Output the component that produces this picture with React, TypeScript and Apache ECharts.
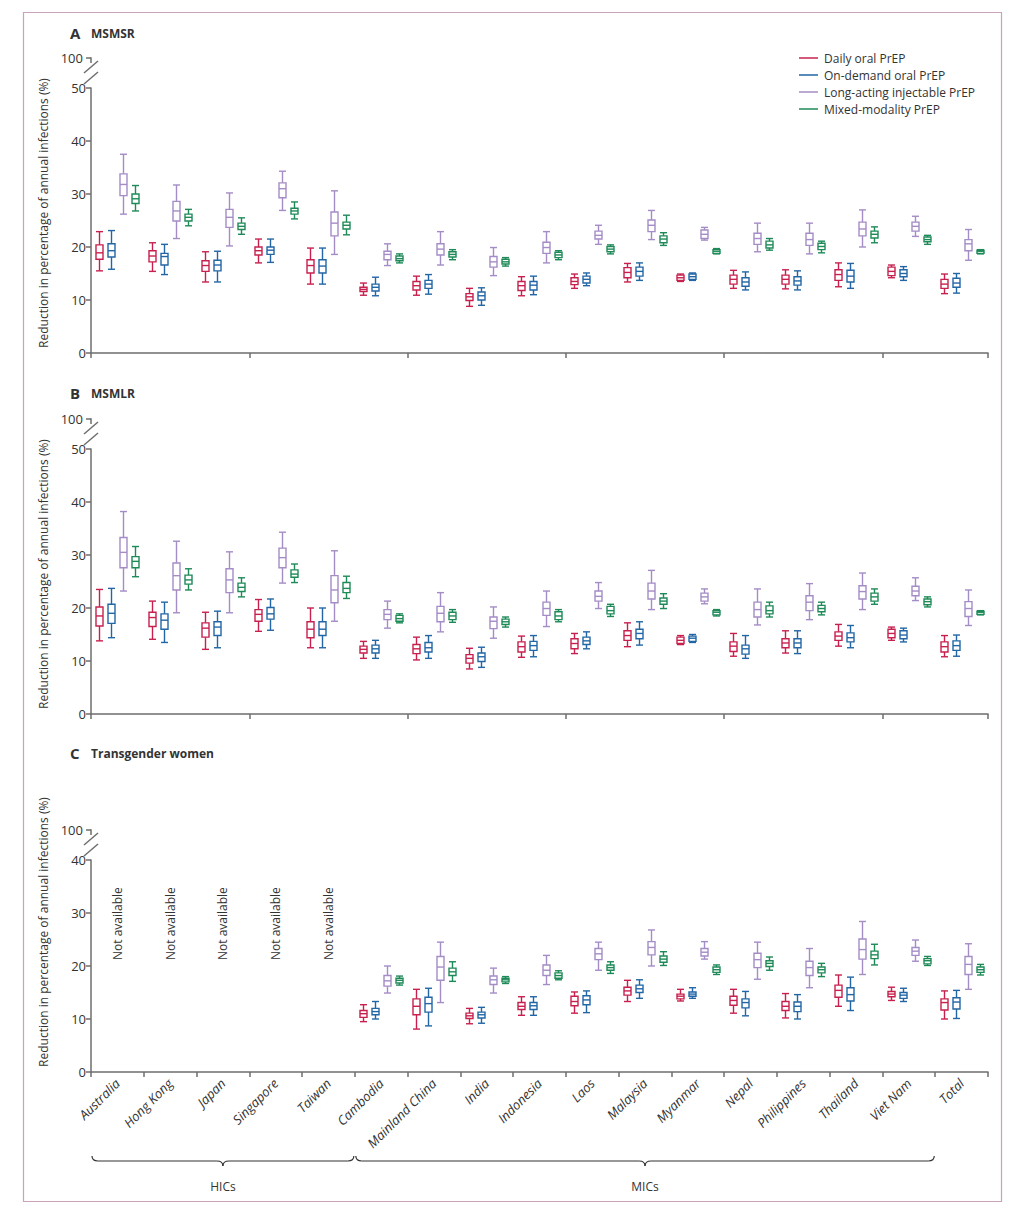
import React, { useEffect, useRef } from "react";
import * as echarts from "echarts";

// Countries on the shared category axis
const countries = [
  "Australia", "Hong Kong", "Japan", "Singapore", "Taiwan", "Cambodia", "Mainland China",
  "India", "Indonesia", "Laos", "Malaysia", "Myanmar", "Nepal", "Philippines", "Thailand",
  "Viet Nam", "Total",
];

const modalities = [
  "Daily oral PrEP",
  "On-demand oral PrEP",
  "Long-acting injectable PrEP",
  "Mixed-modality PrEP",
];

type Box = [number, number, number, number, number] | null; // min, q1, median, q3, max

// A — MSMSR
const msmsrDaily: Box[] = [
  [15.5, 17.7, 18.9, 20.4, 22.9], [15.4, 17.2, 18.3, 19.3, 20.8], [13.4, 15.4, 16.5, 17.4, 19.1],
  [17.0, 18.5, 19.3, 20.0, 21.5], [13.0, 15.1, 16.5, 17.6, 19.8], [10.9, 11.6, 12.0, 12.4, 13.2],
  [10.9, 11.9, 12.7, 13.5, 14.5], [8.8, 9.9, 10.6, 11.2, 12.2], [10.8, 11.8, 12.7, 13.5, 14.4],
  [12.2, 12.9, 13.5, 14.2, 14.9], [13.4, 14.2, 15.2, 16.1, 16.9], [13.5, 13.7, 14.2, 14.7, 14.9],
  [12.2, 13.0, 13.9, 14.7, 15.6], [12.1, 13.0, 13.9, 14.7, 15.7], [12.5, 13.7, 14.8, 15.7, 17.0],
  [14.2, 14.6, 15.4, 16.2, 16.6], [11.2, 12.2, 13.0, 13.9, 14.9],
];
const msmsrOnDemand: Box[] = [
  [15.8, 18.1, 19.3, 20.6, 23.1], [14.8, 16.6, 18.2, 18.8, 20.5], [13.4, 15.5, 16.6, 17.5, 19.2],
  [17.1, 18.6, 19.4, 20.0, 21.5], [13.0, 15.1, 16.4, 17.6, 19.8], [10.8, 11.7, 12.4, 13.0, 14.3],
  [11.1, 12.2, 13.0, 13.7, 14.8], [9.0, 10.0, 10.8, 11.5, 12.3], [11.0, 11.9, 12.8, 13.5, 14.5],
  [12.7, 13.2, 13.9, 14.5, 15.1], [13.7, 14.5, 15.4, 16.2, 17.0], [13.7, 13.9, 14.4, 14.9, 15.1],
  [11.9, 12.6, 13.4, 14.2, 15.3], [11.9, 12.8, 13.6, 14.4, 15.5], [12.2, 13.4, 14.5, 15.6, 16.9],
  [13.7, 14.4, 15.0, 15.7, 16.3], [11.3, 12.4, 13.2, 14.1, 15.0],
];
const msmsrLongActing: Box[] = [
  [26.2, 29.7, 31.8, 33.8, 37.5], [21.6, 24.9, 26.8, 28.6, 31.7], [20.2, 23.7, 25.6, 27.1, 30.2],
  [26.9, 29.3, 31.0, 32.1, 34.3], [18.6, 22.1, 24.5, 26.6, 30.6], [16.5, 17.6, 18.6, 19.2, 20.6],
  [16.6, 18.5, 19.6, 20.6, 22.9], [14.6, 16.2, 17.2, 18.2, 19.9], [17.0, 18.8, 19.9, 20.9, 22.9],
  [20.5, 21.5, 22.2, 23.0, 24.1], [21.4, 22.9, 24.1, 25.1, 26.9], [21.3, 21.6, 22.4, 23.2, 23.7],
  [19.1, 20.5, 21.6, 22.6, 24.5], [18.7, 20.3, 21.4, 22.6, 24.5], [20.0, 22.1, 23.4, 24.7, 27.0],
  [22.0, 23.0, 23.9, 24.7, 25.8], [17.5, 19.3, 20.6, 21.4, 23.3],
];
const msmsrMixed: Box[] = [
  [26.8, 28.2, 29.1, 30.0, 31.6], [24.0, 24.9, 25.6, 26.2, 27.1], [22.4, 23.3, 23.9, 24.5, 25.5],
  [25.3, 26.2, 26.8, 27.3, 28.5], [22.3, 23.4, 24.1, 24.7, 26.0], [17.0, 17.4, 17.8, 18.3, 18.7],
  [17.6, 18.1, 18.6, 19.1, 19.5], [16.4, 16.8, 17.2, 17.7, 18.0], [17.6, 18.0, 18.5, 19.0, 19.3],
  [18.7, 19.1, 19.6, 20.1, 20.4], [20.3, 20.8, 21.5, 22.1, 22.7], [18.7, 18.8, 19.2, 19.5, 19.7],
  [19.4, 19.8, 20.4, 21.1, 21.6], [18.9, 19.5, 20.1, 20.7, 21.1], [20.8, 21.7, 22.4, 23.0, 23.8],
  [20.5, 21.0, 21.4, 21.9, 22.2], [18.7, 18.8, 19.2, 19.4, 19.5],
];

// B — MSMLR
const msmlrDaily: Box[] = [
  [13.8, 16.6, 18.5, 20.2, 23.5], [14.1, 16.5, 18.2, 19.2, 21.3], [12.2, 14.5, 16.2, 17.2, 19.2],
  [15.6, 17.5, 18.8, 19.7, 21.6], [12.5, 14.4, 16.0, 17.4, 20.0], [10.5, 11.5, 12.2, 12.8, 13.7],
  [10.2, 11.4, 12.3, 13.1, 14.5], [8.5, 9.6, 10.5, 11.2, 12.4], [10.7, 11.7, 12.7, 13.6, 14.7],
  [11.4, 12.3, 13.3, 14.2, 15.2], [12.7, 13.9, 14.8, 15.7, 17.2], [13.1, 13.3, 13.9, 14.5, 14.8],
  [10.9, 11.8, 12.8, 13.6, 15.2], [11.5, 12.5, 13.4, 14.2, 15.7], [12.8, 13.9, 14.7, 15.5, 16.9],
  [13.9, 14.4, 15.2, 16.0, 16.4], [10.8, 11.7, 12.7, 13.6, 14.8],
];
const msmlrOnDemand: Box[] = [
  [14.4, 17.1, 19.0, 20.7, 23.7], [13.5, 16.0, 17.7, 18.9, 21.1], [12.5, 14.8, 16.4, 17.4, 19.4],
  [15.8, 17.9, 18.9, 20.1, 21.7], [12.5, 14.8, 16.0, 17.4, 20.0], [10.5, 11.5, 12.3, 13.0, 13.9],
  [10.5, 11.7, 12.5, 13.5, 14.8], [8.8, 9.9, 10.8, 11.5, 12.6], [10.8, 12.0, 12.9, 13.7, 14.8],
  [12.3, 13.1, 13.8, 14.5, 15.5], [13.0, 14.2, 15.2, 16.0, 17.4], [13.5, 13.7, 14.3, 14.7, 15.0],
  [10.5, 11.3, 12.3, 13.0, 14.8], [11.4, 12.5, 13.4, 14.2, 15.7], [12.5, 13.6, 14.4, 15.3, 16.7],
  [13.6, 14.2, 14.9, 15.7, 16.2], [10.9, 12.0, 12.9, 13.8, 14.9],
];
const msmlrLongActing: Box[] = [
  [23.2, 27.6, 30.5, 33.3, 38.2], [19.1, 23.4, 26.1, 28.5, 32.6], [19.1, 22.9, 25.3, 27.4, 30.6],
  [24.7, 27.6, 29.5, 31.3, 34.3], [17.5, 21.0, 23.4, 26.1, 30.8], [16.2, 17.8, 18.8, 19.7, 21.3],
  [15.5, 17.4, 19.0, 20.3, 22.9], [14.3, 16.1, 17.5, 18.3, 20.2], [16.5, 18.6, 19.9, 21.1, 23.2],
  [19.9, 21.3, 22.2, 23.2, 24.8], [19.7, 21.7, 23.2, 24.7, 27.1], [20.8, 21.3, 22.1, 22.8, 23.6],
  [16.8, 18.3, 19.7, 21.1, 23.6], [17.8, 19.5, 21.1, 22.3, 24.6], [19.7, 21.7, 23.1, 24.2, 26.6],
  [21.4, 22.3, 23.2, 24.1, 25.7], [16.7, 18.4, 19.9, 21.2, 23.4],
];
const msmlrMixed: Box[] = [
  [25.9, 27.6, 28.8, 29.7, 31.6], [23.4, 24.5, 25.3, 26.2, 27.4], [22.1, 23.1, 23.9, 24.7, 25.7],
  [24.8, 25.8, 26.4, 27.2, 28.3], [21.8, 22.9, 23.7, 24.8, 26.0], [17.2, 17.5, 18.0, 18.6, 18.9],
  [17.3, 17.8, 18.5, 19.2, 19.7], [16.4, 16.9, 17.4, 17.9, 18.3], [17.4, 17.8, 18.5, 19.3, 19.7],
  [18.4, 18.9, 19.5, 20.3, 20.7], [19.9, 20.7, 21.3, 21.9, 22.7], [18.5, 18.7, 19.2, 19.5, 19.7],
  [18.3, 18.9, 19.5, 20.4, 21.1], [18.7, 19.3, 19.9, 20.5, 21.1], [20.7, 21.3, 22.1, 22.8, 23.6],
  [20.2, 20.6, 21.2, 21.7, 22.1], [18.7, 18.8, 19.2, 19.4, 19.5],
];

// C — Transgender women (no estimates for the high-income countries)
const twDaily: Box[] = [
  null, null, null, null, null,
  [9.5, 10.3, 11.0, 11.6, 12.7], [8.1, 10.8, 12.4, 13.8, 15.6], [9.1, 10.1, 10.6, 11.1, 12.0],
  [10.7, 11.8, 12.4, 13.1, 14.2], [11.1, 12.5, 13.3, 14.3, 15.1], [13.3, 14.5, 15.3, 16.0, 17.3],
  [13.4, 13.8, 14.3, 14.7, 15.6], [11.1, 12.6, 13.5, 14.3, 15.6], [10.2, 11.6, 12.4, 13.3, 14.8],
  [12.4, 14.1, 15.4, 16.4, 18.3], [13.5, 14.2, 14.7, 15.2, 16.0], [10.0, 11.7, 13.1, 13.8, 15.3],
];
const twOnDemand: Box[] = [
  null, null, null, null, null,
  [10.0, 10.8, 11.4, 12.0, 13.3], [8.7, 11.3, 12.9, 14.1, 15.8], [9.2, 10.2, 10.8, 11.3, 12.2],
  [10.7, 11.8, 12.5, 13.1, 14.2], [11.2, 12.7, 13.6, 14.4, 15.3], [13.9, 15.0, 15.7, 16.4, 17.4],
  [13.9, 14.3, 14.7, 15.1, 15.9], [10.6, 12.1, 13.1, 13.8, 15.2], [10.0, 11.4, 12.4, 13.2, 14.6],
  [11.6, 13.4, 14.6, 15.9, 17.9], [13.3, 13.9, 14.5, 15.0, 15.8], [10.1, 11.9, 13.2, 14.0, 15.4],
];
const twLongActing: Box[] = [
  null, null, null, null, null,
  [14.9, 16.2, 17.2, 18.2, 20.0], [13.1, 17.3, 19.8, 21.8, 24.5], [14.9, 16.5, 17.4, 18.1, 19.6],
  [16.5, 18.2, 19.2, 20.2, 22.0], [19.2, 21.2, 22.3, 23.3, 24.5], [20.0, 22.1, 23.5, 24.6, 26.8],
  [21.3, 21.9, 22.6, 23.3, 24.6], [17.5, 19.7, 21.2, 22.4, 24.5], [15.9, 18.2, 19.7, 20.9, 23.3],
  [18.4, 21.3, 23.1, 25.1, 28.4], [20.9, 22.0, 22.8, 23.5, 24.9], [15.6, 18.4, 20.3, 21.8, 24.2],
];
const twMixed: Box[] = [
  null, null, null, null, null,
  [16.4, 16.8, 17.3, 17.7, 18.1], [17.1, 18.2, 18.9, 19.6, 20.8], [16.7, 17.0, 17.4, 17.7, 18.0],
  [17.4, 17.7, 18.2, 18.7, 19.1], [18.6, 19.2, 19.7, 20.2, 20.8], [20.1, 20.7, 21.3, 21.9, 22.7],
  [18.4, 18.8, 19.3, 19.8, 20.2], [19.2, 19.9, 20.5, 21.0, 21.7], [18.0, 18.7, 19.3, 19.8, 20.5],
  [20.2, 21.4, 22.1, 22.8, 24.1], [20.1, 20.4, 21.0, 21.4, 21.8], [18.3, 18.8, 19.3, 19.8, 20.3],
];

const panelLetters = ["A", "B", "C"];
const panelTitles = ["MSMSR", "MSMLR", "Transgender women"];
const panelMax = [50, 50, 40];
const breakTickLabel = "100";
const notAvailableText = "Not available";
const notAvailableLevel = 28;
const yAxisTitle = "Reduction in percentage of annual infections (%)";
const incomeGroups = [
  { label: "HICs", from: 0, to: 5 },
  { label: "MICs", from: 5, to: 16 },
];

const panelData = [
  [msmsrDaily, msmsrOnDemand, msmsrLongActing, msmsrMixed],
  [msmlrDaily, msmlrOnDemand, msmlrLongActing, msmlrMixed],
  [twDaily, twOnDemand, twLongActing, twMixed],
];

// Styling and layout
const FONT = '"Open Sans", "Noto Sans", sans-serif';
const TEXT = "#333333";
const AXIS = "#6e6e6e";
const colors = ["#c8204e", "#2266a6", "#a48cc6", "#1e8a58"];
const GRID_LEFT = 91;
const GRID_WIDTH = 897;
const UNIT_PX = 5.3;
const gridTops = [88, 449, 860];
const headingY = [33, 393, 753];
const slotShift = [-1.5, -0.5, 0.5, 1.5];

const boxRenderer = (slot: number, color: string) => (_params: any, api: any) => {
  const cat = api.value(0);
  const band = api.size([1, 0])[0];
  const x = Math.round(api.coord([cat, 0])[0] + slotShift[slot] * band * 0.228) + 0.5;
  const y = [1, 2, 3, 4, 5].map((i) => api.coord([cat, api.value(i)])[1]);
  const hw = 3.5;
  const st = { stroke: color, lineWidth: 1.4, fill: null };
  return {
    type: "group",
    children: [
      { type: "line", shape: { x1: x, y1: y[0], x2: x, y2: y[1] }, style: st },
      { type: "line", shape: { x1: x, y1: y[3], x2: x, y2: y[4] }, style: st },
      { type: "line", shape: { x1: x - hw, y1: y[0], x2: x + hw, y2: y[0] }, style: st },
      { type: "line", shape: { x1: x - hw, y1: y[4], x2: x + hw, y2: y[4] }, style: st },
      {
        type: "rect",
        shape: { x: x - hw, y: y[3], width: hw * 2, height: y[1] - y[3] },
        style: { stroke: color, lineWidth: 1.4, fill: "#ffffff" },
      },
      { type: "line", shape: { x1: x - hw, y1: y[2], x2: x + hw, y2: y[2] }, style: st },
    ],
  };
};

const notAvailableRenderer = (_params: any, api: any) => {
  const p = api.coord([api.value(0), api.value(1)]);
  return {
    type: "text",
    x: p[0],
    y: p[1],
    rotation: Math.PI / 2,
    style: {
      text: notAvailableText,
      fill: TEXT,
      fontSize: 12,
      fontFamily: FONT,
      align: "center",
      verticalAlign: "middle",
      textAlign: "center",
      textVerticalAlign: "middle",
    },
  };
};

function buildOption() {
  const grids: any[] = [];
  const xAxes: any[] = [];
  const yAxes: any[] = [];
  const series: any[] = [];
  const graphics: any[] = [];

  const txt = (text: string, x: number, y: number, extra: any = {}) => ({
    type: "text",
    x,
    y,
    silent: true,
    rotation: extra.rotation || 0,
    style: {
      text,
      fill: TEXT,
      fontSize: extra.fontSize || 12,
      fontWeight: extra.fontWeight || "normal",
      fontFamily: FONT,
      align: extra.align || "left",
      verticalAlign: "middle",
      textAlign: extra.align || "left",
      textVerticalAlign: "middle",
    },
  });
  const seg = (x1: number, y1: number, x2: number, y2: number, color = AXIS, w = 1.5) => ({
    type: "line",
    silent: true,
    shape: { x1, y1, x2, y2 },
    style: { stroke: color, lineWidth: w },
  });

  // Outer frame
  graphics.push({
    type: "rect",
    silent: true,
    shape: { x: 23.5, y: 12.5, width: 978, height: 1189 },
    style: { stroke: "#c9a3bb", lineWidth: 1.2, fill: null },
  });

  panelData.forEach((sets, p) => {
    const top = gridTops[p];
    const height = panelMax[p] * UNIT_PX;
    const bottom = top + height;
    const isLast = p === panelData.length - 1;
    grids.push({ left: GRID_LEFT, top, width: GRID_WIDTH, height, containLabel: false });
    xAxes.push({
      type: "category",
      gridIndex: p,
      data: countries,
      boundaryGap: true,
      axisLine: { lineStyle: { color: AXIS, width: 1.5 } },
      axisTick: { show: true, length: 5, alignWithLabel: false, lineStyle: { color: AXIS, width: 1.5 } },
      axisLabel: isLast
        ? {
            show: true,
            interval: 0,
            rotate: 45,
            margin: 9,
            fontSize: 13,
            fontStyle: "italic",
            fontFamily: FONT,
            color: TEXT,
          }
        : { show: false },
      splitLine: { show: false },
    });
    yAxes.push({
      type: "value",
      gridIndex: p,
      min: 0,
      max: panelMax[p],
      interval: 10,
      axisLine: { show: true, lineStyle: { color: AXIS, width: 1.5 } },
      axisTick: { show: true, length: 5, lineStyle: { color: AXIS, width: 1.5 } },
      axisLabel: { fontSize: 13, fontFamily: FONT, color: TEXT, margin: 5 },
      splitLine: { show: false },
    });

    sets.forEach((arr, s) => {
      series.push({
        type: "custom",
        name: modalities[s],
        xAxisIndex: p,
        yAxisIndex: p,
        renderItem: boxRenderer(s, colors[s]),
        encode: { x: 0, y: [1, 2, 3, 4, 5] },
        data: arr
          .map((b, i) => (b ? [i, b[0], b[1], b[2], b[3], b[4]] : null))
          .filter((d) => d !== null),
        z: 3,
      });
    });

    // Categories without any estimate
    const missing = sets[0]
      .map((b, i) => (b ? null : [i, notAvailableLevel]))
      .filter((d) => d !== null);
    if (missing.length) {
      series.push({
        type: "custom",
        xAxisIndex: p,
        yAxisIndex: p,
        renderItem: notAvailableRenderer,
        encode: { x: 0, y: 1 },
        data: missing,
        silent: true,
      });
    }

    // Panel heading
    graphics.push(txt(panelLetters[p], 70, headingY[p], { fontSize: 15, fontWeight: "bold" }));
    graphics.push(txt(panelTitles[p], 91, headingY[p], { fontSize: 12, fontWeight: "bold" }));

    // Rotated y-axis title
    graphics.push(
      txt(yAxisTitle, 43, bottom - 140, { rotation: Math.PI / 2, align: "center" })
    );

    // Broken axis: 100 tick above the top of the scale
    const y100 = top - 30;
    const ax = GRID_LEFT;
    graphics.push(txt(breakTickLabel, ax - 8, y100, { align: "right", fontSize: 13 }));
    graphics.push(seg(ax - 5, y100, ax, y100));
    graphics.push(seg(ax, y100 - 0.7, ax, y100 + 5));
    graphics.push(seg(ax - 7, y100 + 15, ax + 7, y100 + 3));
    graphics.push(seg(ax - 7, y100 + 26, ax + 7, y100 + 14));
  });

  // Legend
  modalities.forEach((m, i) => {
    const y = 58 + i * 17;
    graphics.push(seg(799, y, 818, y, colors[i], 1.5));
    graphics.push(txt(m, 824, y));
  });

  // Income-group braces beneath the country labels
  const band = GRID_WIDTH / countries.length;
  const by = 1161;
  const r = 6;
  incomeGroups.forEach((g) => {
    const x0 = GRID_LEFT + g.from * band + 1;
    const x1 = GRID_LEFT + g.to * band - 1;
    const xm = (x0 + x1) / 2;
    const st = { stroke: "#333333", lineWidth: 1.2, fill: null };
    graphics.push(
      { type: "bezierCurve", silent: true, shape: { x1: x0, y1: by - 5, cpx1: x0, cpy1: by, x2: x0 + r, y2: by }, style: st },
      seg(x0 + r, by, xm - r, by, "#333333", 1.2),
      { type: "bezierCurve", silent: true, shape: { x1: xm - r, y1: by, cpx1: xm, cpy1: by, x2: xm, y2: by + 5 }, style: st },
      { type: "bezierCurve", silent: true, shape: { x1: xm, y1: by + 5, cpx1: xm, cpy1: by, x2: xm + r, y2: by }, style: st },
      seg(xm + r, by, x1 - r, by, "#333333", 1.2),
      { type: "bezierCurve", silent: true, shape: { x1: x1 - r, y1: by, cpx1: x1, cpy1: by, x2: x1, y2: by - 5 }, style: st },
      txt(g.label, xm, 1186, { align: "center" })
    );
  });

  return {
    animation: false,
    backgroundColor: "#ffffff",
    textStyle: { fontFamily: FONT },
    grid: grids,
    xAxis: xAxes,
    yAxis: yAxes,
    series,
    graphic: { elements: graphics },
  };
}

export default function App() {
  const ref = useRef<HTMLDivElement>(null);
  useEffect(() => {
    if (!ref.current) return;
    const chart = echarts.init(ref.current, undefined, { renderer: "svg" });
    chart.setOption(buildOption() as any);
    return () => chart.dispose();
  }, []);
  return (
    <div
      ref={ref}
      style={{ position: "absolute", left: 0, top: 0, width: 1024, height: 1210, background: "#fff" }}
    />
  );
}
